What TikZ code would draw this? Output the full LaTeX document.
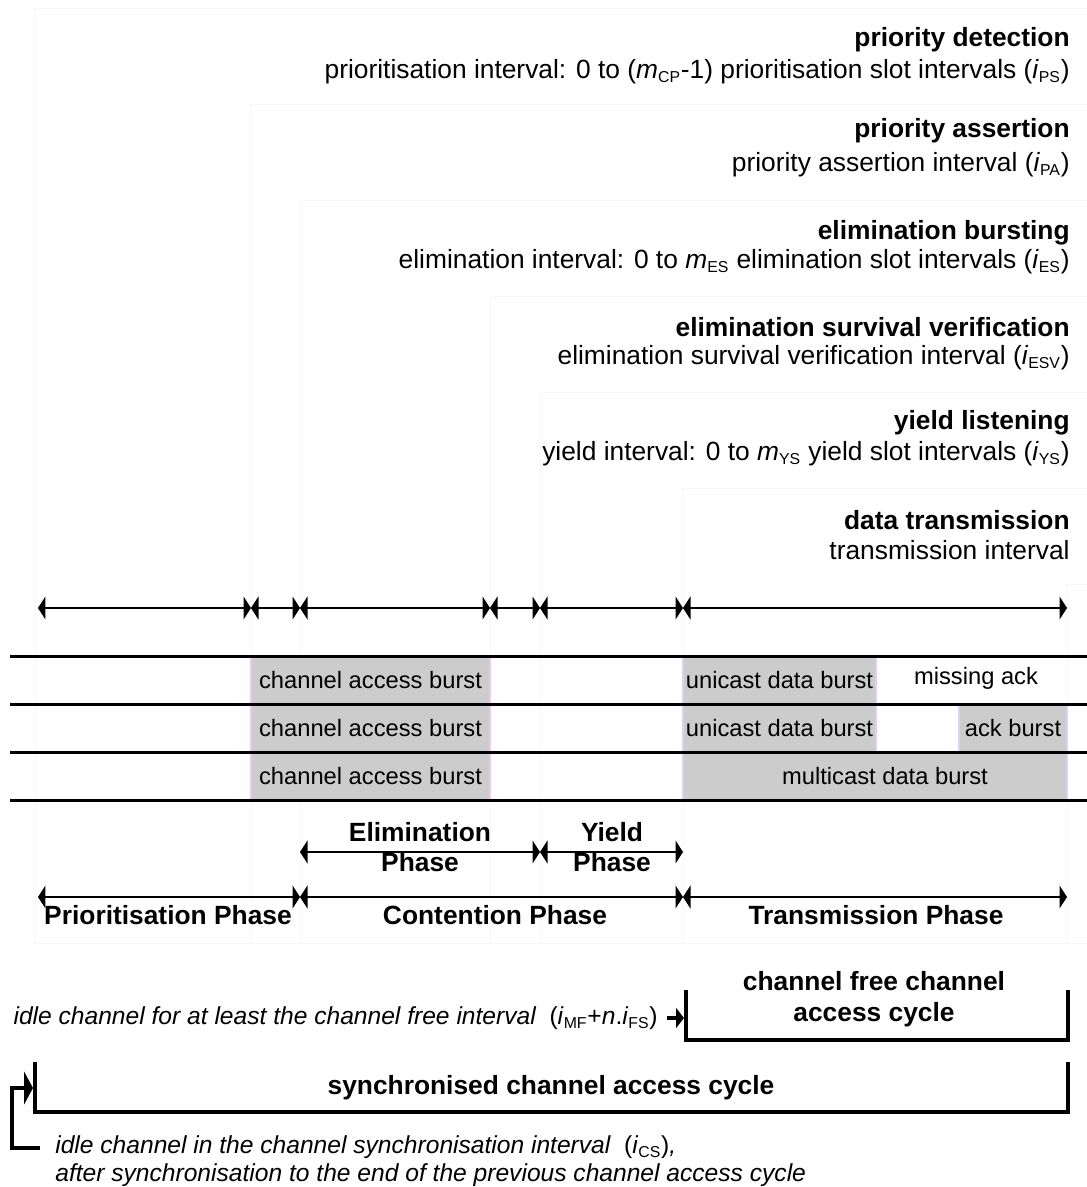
\documentclass[tikz,border=0pt]{standalone}
\usepackage{fontspec}
\setmainfont{Liberation Sans}
\usetikzlibrary{arrows.meta, positioning}
\definecolor{burstgray}{HTML}{CCCCCC}
\definecolor{ghost}{HTML}{F7F7F7}
\definecolor{pinkedge}{HTML}{F2C6F2}
\definecolor{lilacedge}{HTML}{DDD0F7}
\newcommand{\subidx}[1]{\textsubscript{\fontsize{9}{9}\selectfont #1}}
\tikzset{
  ghostBox/.style = {draw=ghost, line width=0.5pt},
  rowLine/.style = {line width=1.7pt},
  spanArrow/.style = {{Triangle[length=0.15cm, width=0.46cm]}-{Triangle[length=0.15cm, width=0.46cm]}, line width=0.6pt},
  headTitle/.style = {anchor=east, inner sep=0pt, font=\fontsize{15}{18}\selectfont\bfseries},
  headText/.style = {anchor=east, inner sep=0pt, font=\fontsize{15}{18}\selectfont},
  burst/.style = {rectangle, fill=burstgray, draw=pinkedge, line width=0.8pt,
    minimum height=0.96cm, inner sep=0pt, font=\fontsize{13.5}{16}\selectfont},
  dataBurst/.style = {burst, draw=lilacedge},
  slotText/.style = {inner sep=0pt, font=\fontsize{13.5}{16}\selectfont},
  phaseLabel/.style = {inner sep=0pt, align=center, font=\fontsize{15}{18}\selectfont\bfseries},
  cycleLine/.style = {line width=2.3pt},
  cycleLabel/.style = {inner sep=0pt, align=center, font=\fontsize{15}{17.5}\selectfont\bfseries},
  note/.style = {inner sep=0pt, font=\fontsize{14}{17}\selectfont\itshape},
  freeArrow/.style = {-{Triangle[length=0.16cm, width=0.4cm]}, line width=2.5pt},
  syncArrow/.style = {-{Triangle[length=0.18cm, width=0.66cm]}, line width=2.3pt},
}

\begin{document}
\begin{tikzpicture}[x=0.02cm, y=-0.02cm]
\useasboundingbox (0,0) rectangle (1087,1187);

% faint interval frames
\draw[ghostBox] (35,8) rectangle (1100,943);
\draw[ghostBox] (251,104) rectangle (1100,943);
\draw[ghostBox] (300,200) rectangle (1100,943);
\draw[ghostBox] (490,296) rectangle (1100,943);
\draw[ghostBox] (540,392) rectangle (1100,943);
\draw[ghostBox] (683,488) rectangle (1100,943);
\draw[ghostBox] (1067,584) rectangle (1100,943);

% headings
\node[headTitle] (pdTitle) at (1070,40) {priority detection};
\node[headText] (pdText) at (1070,72) {prioritisation interval: 0 to (\textit{m}\subidx{CP}-1) prioritisation slot intervals (\textit{i}\subidx{PS})};
\node[headTitle] (paTitle) at (1070,131) {priority assertion};
\node[headText] (paText) at (1070,165) {priority assertion interval (\textit{i}\subidx{PA})};
\node[headTitle] (ebTitle) at (1070,233) {elimination bursting};
\node[headText] (ebText) at (1070,262) {elimination interval: 0 to \textit{m}\subidx{ES} elimination slot intervals (\textit{i}\subidx{ES})};
\node[headTitle] (esvTitle) at (1070,327) {elimination survival verification};
\node[headText] (esvText) at (1070,358) {elimination survival verification interval (\textit{i}\subidx{ESV})};
\node[headTitle] (ylTitle) at (1070,423) {yield listening};
\node[headText] (ylText) at (1070,454) {yield interval: 0 to \textit{m}\subidx{YS} yield slot intervals (\textit{i}\subidx{YS})};
\node[headTitle] (dtTitle) at (1070,520) {data transmission};
\node[headText] (dtText) at (1070,550) {transmission interval};

% interval ticks
\coordinate (t0) at (38,608);
\coordinate (t1) at (251,608);
\coordinate (t2) at (300,608);
\coordinate (t3) at (490,608);
\coordinate (t4) at (540,608);
\coordinate (t5) at (683,608);
\coordinate (t6) at (1067,608);
\draw[spanArrow] (t0) -- (t1);
\draw[spanArrow] (t1) -- (t2);
\draw[spanArrow] (t2) -- (t3);
\draw[spanArrow] (t3) -- (t4);
\draw[spanArrow] (t4) -- (t5);
\draw[spanArrow] (t5) -- (t6);

% bursts
\node[burst, minimum width=4.78cm] (cab1) at (370.5,680) {channel access burst};
\node[burst, minimum width=4.78cm] (cab2) at (370.5,728) {channel access burst};
\node[burst, minimum width=4.78cm] (cab3) at (370.5,776) {channel access burst};
\node[dataBurst, minimum width=3.86cm] (uni1) at (779.5,680) {unicast data burst};
\node[dataBurst, minimum width=3.86cm] (uni2) at (779.5,728) {unicast data burst};
\node[dataBurst, minimum width=2.16cm] (ack) at (1013,728) {ack burst};
\node[dataBurst, minimum width=7.68cm] (multi) at (875,776) {\hspace{0.4cm}multicast data burst};
\node[slotText] (miss) at (976,678) {missing ack};

\draw[rowLine] (10,656) -- (1087,656);
\draw[rowLine] (10,704) -- (1087,704);
\draw[rowLine] (10,752) -- (1087,752);
\draw[rowLine] (10,800) -- (1087,800);

% phases
\coordinate (e0) at (300,852);
\coordinate (e1) at (540,852);
\coordinate (e2) at (683,852);
\draw[spanArrow] (e0) -- (e1);
\draw[spanArrow] (e1) -- (e2);
\node[phaseLabel] (elimPh) at (420,847) {Elimination\\[-1pt]Phase};
\node[phaseLabel] (yieldPh) at (612,847) {Yield\\[-1pt]Phase};

\coordinate (m0) at (38,897);
\coordinate (m1) at (300,897);
\coordinate (m2) at (683,897);
\coordinate (m3) at (1067,897);
\draw[spanArrow] (m0) -- (m1);
\draw[spanArrow] (m1) -- (m2);
\draw[spanArrow] (m2) -- (m3);
\node[phaseLabel] (prioPh) at (168,915) {Prioritisation Phase};
\node[phaseLabel] (contPh) at (495,915) {Contention Phase};
\node[phaseLabel] (transPh) at (876,915) {Transmission Phase};

% channel free cycle
\coordinate (cfL) at (686,990);
\coordinate (cfR) at (1068,990);
\draw[cycleLine] (cfL) -- ++(0,50) -| (cfR);
\node[cycleLabel] (cfLabel) at (874,999) {channel free channel\\access cycle};
\node[note, anchor=east] (freeNote) at (658,1018) {idle channel for at least the channel free interval\ \ {\upshape(\textit{i}\subidx{MF}+\textit{n}.\textit{i}\subidx{FS})}};
\coordinate (cfIn) at (667,1018);
\coordinate (cfHit) at (684,1018);
\draw[freeArrow] (cfIn) -- (cfHit);

% synchronised cycle
\coordinate (scL) at (35,1062);
\coordinate (scR) at (1068,1062);
\draw[cycleLine] (scL) -- ++(0,50) -| (scR);
\node[cycleLabel] (scLabel) at (551,1088) {synchronised channel access cycle};
\coordinate (scRet) at (40,1148);
\coordinate (scHit) at (33,1088);
\draw[syncArrow] (scRet) -| (12,1088) -- (scHit);
\node[note, anchor=west] (syncNote) at (55,1147) {idle channel in the channel synchronisation interval\ \ {\upshape(\textit{i}\subidx{CS})},};
\node[note, anchor=west] (syncNote2) at (55,1175) {after synchronisation to the end of the previous channel access cycle};
\end{tikzpicture}
\end{document}
